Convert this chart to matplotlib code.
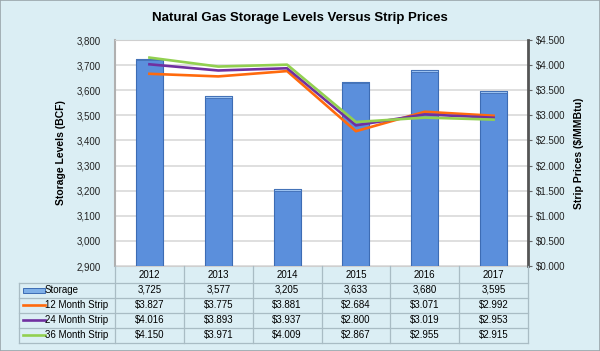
import numpy as np
import matplotlib
matplotlib.use('Agg')
from matplotlib import pyplot as plt
from matplotlib.lines import Line2D
from matplotlib.patches import Rectangle
import matplotlib.transforms as mtransforms

plt.rcParams['font.family'] = ['Liberation Sans', 'DejaVu Sans']

years = ['2012', '2013', '2014', '2015', '2016', '2017']
storage = [3725, 3577, 3205, 3633, 3680, 3595]
strip12 = [3.827, 3.775, 3.881, 2.684, 3.071, 2.992]
strip24 = [4.016, 3.893, 3.937, 2.800, 3.019, 2.953]
strip36 = [4.150, 3.971, 4.009, 2.867, 2.955, 2.915]

bg = '#dbeef4'
bar_col = '#5b8fdc'
c12 = '#ff6a0d'
c24 = '#7030a0'
c36 = '#92d050'

W, H = 600, 351
fig = plt.figure(figsize=(6, 3.51), dpi=100, facecolor=bg)
fig.add_artist(Rectangle((0, 0), 1, 1, transform=fig.transFigure,
                         fill=False, edgecolor='#9aa5aa', lw=1.2))

def fx(px):
    return px / W

def fy(py):
    return 1 - py / H

ax = fig.add_axes([fx(115), fy(266), fx(528) - fx(115), fy(40) - fy(266)])
ax.set_facecolor('white')
x = np.arange(len(years))
ax.bar(x, [s - 2900 for s in storage], bottom=2900, width=0.39,
       color=bar_col, edgecolor='#3d6cb4', lw=0.8, zorder=3)
# lighter cap on top of bars
ax.bar(x, [6] * len(x), bottom=[s - 6 for s in storage], width=0.39,
       color='#9cc2f0', edgecolor='#3d6cb4', lw=0.6, zorder=4)
ax.set_xlim(-0.5, len(years) - 0.5)
ax.set_ylim(2900, 3800)
ax.set_yticks(range(2900, 3801, 100))
ax.set_yticklabels([f'{v:,}' for v in range(2900, 3801, 100)], fontsize=7, color='#222222')
ax.tick_params(axis='y', length=0, pad=10)
ax.set_xticks([])
ax.grid(axis='y', color='#d9d9d9', lw=1.2, zorder=0)
ax.set_axisbelow(True)
for s in ['top', 'bottom']:
    ax.spines[s].set_color('#cfcfcf')
ax.spines['left'].set_color('#b0b0b0')
ax.spines['left'].set_linewidth(1.5)
ax.spines['right'].set_visible(False)
ax.set_ylabel('Storage Levels (BCF)', fontsize=7.5, fontweight='bold', labelpad=8)

ax2 = ax.twinx()
ax2.plot(x, strip12, color=c12, lw=1.9, zorder=5)
ax2.plot(x, strip24, color=c24, lw=1.9, zorder=5)
ax2.plot(x, strip36, color=c36, lw=1.9, zorder=5)
ax2.set_ylim(0, 4.5)
ax2.set_yticks(np.arange(0, 4.51, 0.5))
ax2.set_yticklabels([f'${v:.3f}' for v in np.arange(0, 4.51, 0.5)], fontsize=7, color='#222222')
ax2.tick_params(axis='y', length=3, color='#666666', pad=3)
ax2.spines['right'].set_color('#555555')
ax2.spines['right'].set_linewidth(2)
for s in ['top', 'bottom', 'left']:
    ax2.spines[s].set_visible(False)
ax2.set_ylabel('Strip Prices ($/MMBtu)', fontsize=7.5, fontweight='bold', labelpad=6)

fig.text(0.5, fy(18), 'Natural Gas Storage Levels Versus Strip Prices',
         ha='center', va='center', fontsize=9.5, fontweight='bold')

# data table below the plot
trans = mtransforms.blended_transform_factory(ax.transData, fig.transFigure)
line_col = '#a9bcc4'
row_top = [266, 282.5, 297.5, 312.5, 327.5, 342.5]
left_px, split_px, right_px = 19, 115, 528

def hline(y, x0, x1):
    fig.add_artist(Line2D([fx(x0), fx(x1)], [fy(y), fy(y)], transform=fig.transFigure,
                          color=line_col, lw=0.9))

def vline(xp, y0, y1):
    fig.add_artist(Line2D([fx(xp), fx(xp)], [fy(y0), fy(y1)], transform=fig.transFigure,
                          color=line_col, lw=0.9))

for y in row_top[1:]:
    hline(y, left_px, right_px)
vline(left_px, row_top[1], row_top[-1])
col_w = (right_px - split_px) / len(years)
for i in range(len(years) + 1):
    vline(split_px + i * col_w, row_top[0], row_top[-1])

for i, yr in enumerate(years):
    fig.text(x[i], fy(275), yr, transform=trans, ha='center', va='center', fontsize=7)

rows = [
    ('Storage', [f'{v:,}' for v in storage], None),
    ('12 Month Strip', [f'${v:.3f}' for v in strip12], c12),
    ('24 Month Strip', [f'${v:.3f}' for v in strip24], c24),
    ('36 Month Strip', [f'${v:.3f}' for v in strip36], c36),
]
for r, (name, vals, col) in enumerate(rows):
    yc = (row_top[r + 1] + row_top[r + 2]) / 2
    if col is None:
        fig.add_artist(Rectangle((fx(23), fy(yc + 2.5)), fx(45) - fx(23), fy(yc - 2.5) - fy(yc + 2.5),
                                 transform=fig.transFigure, facecolor='#7fb0e8',
                                 edgecolor='#3d6cb4', lw=0.7))
    else:
        fig.add_artist(Line2D([fx(23), fx(45)], [fy(yc), fy(yc)], transform=fig.transFigure,
                              color=col, lw=1.9))
    fig.text(fx(45), fy(yc), name, ha='left', va='center', fontsize=7)
    for i, v in enumerate(vals):
        fig.text(x[i], fy(yc), v, transform=trans, ha='center', va='center', fontsize=7)

fig.savefig('out.png', dpi=100, facecolor=bg)
